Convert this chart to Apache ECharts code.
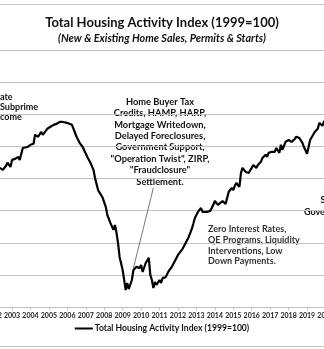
<!DOCTYPE html>
<html><head><meta charset="utf-8">
<script src="https://cdn.jsdelivr.net/npm/echarts@6/dist/echarts.min.js"></script>
<style>html,body{margin:0;padding:0;background:#fff}#c{width:324px;height:349px}</style>
</head><body><div id="c"></div>
<script>
// ---- data ----
const dates = ['2002-05','2002-07','2002-09','2002-10','2002-12','2003-01','2003-03','2003-05','2003-06','2003-08','2003-11',
'2004-01','2004-03','2004-04','2004-06','2004-08','2004-09','2004-12','2005-02','2005-04','2005-06','2005-07','2005-08','2005-10',
'2006-01','2006-04','2006-05','2006-07','2006-09','2006-11','2007-02','2007-04','2007-06','2007-07','2007-09','2007-12',
'2008-02','2008-03','2008-05','2008-07','2008-08','2008-09','2008-10','2008-11','2009-01','2009-03','2009-04','2009-05','2009-07','2009-08','2009-10','2009-12',
'2010-01','2010-02','2010-04','2010-06','2010-07','2010-08','2010-09','2010-10','2010-11','2011-01','2011-02','2011-03','2011-05','2011-07','2011-09','2011-11',
'2012-01','2012-04','2012-06','2012-08','2012-10','2012-11','2012-12','2013-02','2013-04','2013-05','2013-08','2013-10','2013-12',
'2014-01','2014-03','2014-06','2014-07','2014-08','2014-10','2014-12','2015-01','2015-02','2015-03','2015-05','2015-06','2015-07','2015-09','2015-11','2015-12',
'2016-01','2016-02','2016-04','2016-05','2016-07','2016-08','2016-10','2016-11','2016-12','2017-02','2017-04','2017-05','2017-07','2017-08','2017-09','2017-11','2017-12',
'2018-01','2018-03','2018-05','2018-06','2018-08','2018-10','2018-11','2018-12','2019-01','2019-02','2019-03','2019-05','2019-06','2019-07','2019-08','2019-09','2019-11','2019-12','2020-01'];
const values = [83.3,82.7,83.9,84.9,83.6,85.8,86.1,86.7,85.8,89.5,89.8,
90.5,90.8,93.6,93.0,94.5,93.6,95.5,96.1,96.7,97.0,97.3,97.6,97.6,
97.3,96.7,96.1,93.0,91.1,89.8,86.7,84.9,82.7,80.2,76.4,74.0,
71.2,68.7,66.2,64.0,65.5,63.1,59.9,55.6,51.5,45.3,47.5,45.6,48.4,51.5,52.5,52.1,
53.1,50.9,53.7,55.3,50.0,48.4,45.9,47.8,46.9,48.4,47.5,49.0,49.3,51.2,52.5,54.3,
56.2,58.1,59.9,61.8,64.3,65.9,67.7,69.6,70.8,69.6,69.6,69.9,71.8,
73.0,71.8,73.0,73.6,72.1,75.8,77.1,76.4,77.7,78.6,77.4,81.7,83.3,82.1,81.7,81.1,
83.3,84.2,83.3,84.2,85.2,86.4,87.4,86.7,88.0,88.3,88.3,89.5,88.0,90.5,88.9,91.4,91.1,
92.0,91.4,92.3,93.0,92.6,91.1,89.8,89.2,87.7,89.8,92.0,93.6,94.5,93.9,95.5,97.3,96.4,97.6,98.3];
const yearTicks = {min: 2002, max: 2021, step: 1};
const valueTicks = {min: 40, max: 120, step: 10};
const seriesName = 'Total Housing Activity Index (1999=100)';
const titleText = 'Total Housing Activity Index (1999=100)';
const subtitleText = '(New & Existing Home Sales, Permits & Starts)';
const noteMiddle = ['Home Buyer Tax','Credits, HAMP, HARP,','Mortgage Writedown,','Delayed Foreclosures,','Government Support,','"Operation Twist", ZIRP,','"Fraudclosure"','Settlement.'];
const noteRight = ['Zero Interest Rates,','QE Programs, Liquidity','Interventions, Low','Down Payments.'];
const noteLeft = ['ate','Subprime','come'];
const leaderFrom = ['2010-09', 77.1];
const leaderTo = ['2009-08', 52.1];

function toYear(s){ const p = s.split('-'); return +p[0] + (+p[1]-1)/12; }
const points = dates.map((d,i)=>[toYear(d), values[i]]);

const FONT = 'Lato, "Open Sans", "Liberation Sans", sans-serif';
const chart = echarts.init(document.getElementById('c'), null, {renderer:'canvas'});
chart.setOption({
  animation:false,
  backgroundColor:'#fff',
  textStyle:{fontFamily:FONT},
  title:{
    text:titleText, subtext:subtitleText, left:'center', top:11, itemGap:4,
    textStyle:{fontFamily:FONT, fontSize:13, fontWeight:'bold', color:'#111'},
    subtextStyle:{fontFamily:FONT, fontSize:10.8, fontWeight:'bold', fontStyle:'italic', color:'#111'}
  },
  grid:{left:-6.4, right:-19.9, top:50, bottom:42, outerBoundsMode:'none'},
  xAxis:{
    type:'value', min:yearTicks.min, max:yearTicks.max, interval:yearTicks.step,
    axisLine:{lineStyle:{color:'#bfbfbf', width:1}},
    axisTick:{show:true, length:3, lineStyle:{color:'#bfbfbf'}},
    splitLine:{show:false},
    axisLabel:{formatter:v=>String(v), fontSize:7, fontWeight:'bold', color:'#222', margin:5, fontFamily:FONT, hideOverlap:false}
  },
  yAxis:{
    type:'value', min:valueTicks.min, max:valueTicks.max, interval:valueTicks.step,
    axisLine:{show:false}, axisTick:{show:false}, axisLabel:{show:false},
    splitLine:{lineStyle:{color:'#c4c4c4', width:1}}
  },
  legend:{
    bottom:11, left:'center', itemWidth:18, itemHeight:2, icon:'rect', itemGap:5,
    textStyle:{fontFamily:FONT, fontSize:8.6, fontWeight:'bold', color:'#111', padding:[0,0,0,-3]},
    data:[{name:seriesName, itemStyle:{color:'#000'}}]
  },
  series:[{
    name:seriesName, type:'line', data:points, symbol:'none', smooth:false,
    lineStyle:{color:'#000', width:2.2}, itemStyle:{color:'#000'},
    markLine:{
      silent:true, symbol:'none', label:{show:false},
      lineStyle:{color:'#777', width:1, type:'solid'},
      data:[[{coord:[toYear(leaderFrom[0]), leaderFrom[1]]},{coord:[toYear(leaderTo[0]), leaderTo[1]]}]]
    }
  }],
  graphic:[
    {type:'line', shape:{x1:0,y1:4.5,x2:324,y2:4.5}, style:{stroke:'#c8c8c8', lineWidth:1}, silent:true},
    {type:'line', shape:{x1:0,y1:346.5,x2:324,y2:346.5}, style:{stroke:'#c8c8c8', lineWidth:1}, silent:true},
    {type:'text', x:160, y:96, style:{text:noteMiddle.join('\n'), align:'center', verticalAlign:'top', lineHeight:11.4, font:'bold 9.3px '+FONT, fill:'#111'}},
    {type:'text', x:208, y:224, style:{text:noteRight.join('\n'), align:'left', verticalAlign:'top', lineHeight:10.7, font:'bold 9px '+FONT, fill:'#333'}},
    {type:'text', x:0, y:91.5, style:{text:noteLeft.join('\n'), align:'left', verticalAlign:'top', lineHeight:10.3, font:'bold 9px '+FONT, fill:'#111'}},
    {type:'text', x:320.5, y:200, style:{text:'S', align:'left', verticalAlign:'middle', font:'bold 9px '+FONT, fill:'#111'}},
    {type:'text', x:304, y:212.5, style:{text:'Gove', align:'left', verticalAlign:'middle', font:'bold 9px '+FONT, fill:'#111'}}
  ]
});
</script></body></html>
